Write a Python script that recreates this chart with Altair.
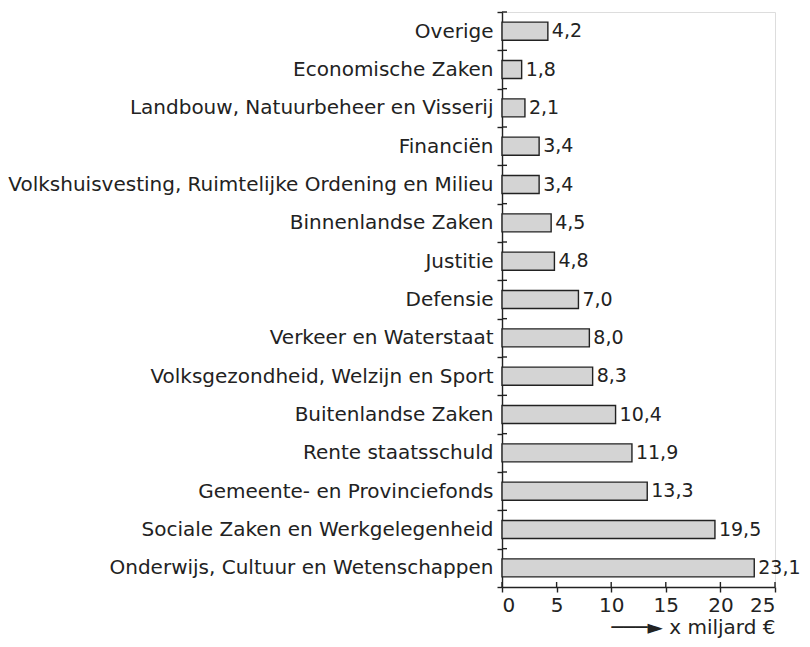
import altair as alt
import pandas as pd

categories = [
    "Overige",
    "Economische Zaken",
    "Landbouw, Natuurbeheer en Visserij",
    "Financiën",
    "Volkshuisvesting, Ruimtelijke Ordening en Milieu",
    "Binnenlandse Zaken",
    "Justitie",
    "Defensie",
    "Verkeer en Waterstaat",
    "Volksgezondheid, Welzijn en Sport",
    "Buitenlandse Zaken",
    "Rente staatsschuld",
    "Gemeente- en Provinciefonds",
    "Sociale Zaken en Werkgelegenheid",
    "Onderwijs, Cultuur en Wetenschappen",
]
values = [4.2, 1.8, 2.1, 3.4, 3.4, 4.5, 4.8, 7.0, 8.0, 8.3, 10.4, 11.9, 13.3, 19.5, 23.1]
x_ticks = [0, 5, 10, 15, 20, 25]

df = pd.DataFrame({"cat": categories, "val": values})
df["label"] = [f"{v:.1f}".replace(".", ",") for v in values]
ticks_df = pd.DataFrame({"t": x_ticks})

FONT = "DejaVu Sans"
FS = 20
W, H = 273, 575
INK = "#222222"

yscale = alt.Scale(domain=categories, paddingInner=0, paddingOuter=0)
xscale = alt.Scale(domain=[0, 25], nice=False, zero=True)

base = alt.Chart(df)

bars = base.mark_bar(
    height={"band": 0.47}, fill="#d4d4d4", stroke=INK, strokeWidth=1.4
).encode(
    y=alt.Y(
        "cat:N",
        scale=yscale,
        sort=None,
        axis=alt.Axis(
            title=None,
            tickBand="extent",
            tickSize=5,
            tickColor=INK,
            tickWidth=1.4,
            domainColor=INK,
            domainWidth=1.4,
            labelFont=FONT,
            labelFontSize=FS,
            labelColor=INK,
            labelPadding=4,
            labelLimit=0,
        ),
    ),
    x=alt.X(
        "val:Q",
        scale=xscale,
        axis=alt.Axis(
            values=x_ticks,
            title="───► x miljard €",
            titleFont=FONT,
            titleFontSize=FS,
            titleFontWeight="normal",
            titleColor=INK,
            titleAnchor="end",
            titlePadding=2,
            tickSize=5,
            tickColor=INK,
            tickWidth=1.4,
            domainColor=INK,
            domainWidth=1.4,
            labelFont=FONT,
            labelFontSize=FS,
            labelColor=INK,
            labelPadding=3,
            grid=False,
        ),
    ),
)

text = base.mark_text(
    align="left", baseline="middle", dx=4, font=FONT, fontSize=19, color=INK
).encode(
    y=alt.Y("cat:N", scale=yscale, sort=None),
    x=alt.X("val:Q", scale=xscale),
    text="label:N",
)

ytick_in = base.mark_rule(color=INK, strokeWidth=1.4).encode(
    y=alt.Y("cat:N", scale=yscale, sort=None, bandPosition=0),
    x=alt.value(0),
    x2=alt.value(5),
)

xtick_in = alt.Chart(ticks_df).mark_rule(color=INK, strokeWidth=1.4).encode(
    x=alt.X("t:Q", scale=xscale),
    y=alt.value(H - 5),
    y2=alt.value(H),
)

chart = (
    alt.layer(bars, text, ytick_in, xtick_in)
    .properties(
        width=W,
        height=H,
        autosize=alt.AutoSizeParams(type="none"),
        padding={"left": 494, "top": 4, "right": 27, "bottom": 52},
    )
    .configure_view(strokeOpacity=0, strokeWidth=0, fill="white")
    .configure(background="white")
)

chart.save("out.html", embed_options={"renderer": "svg", "actions": False})
